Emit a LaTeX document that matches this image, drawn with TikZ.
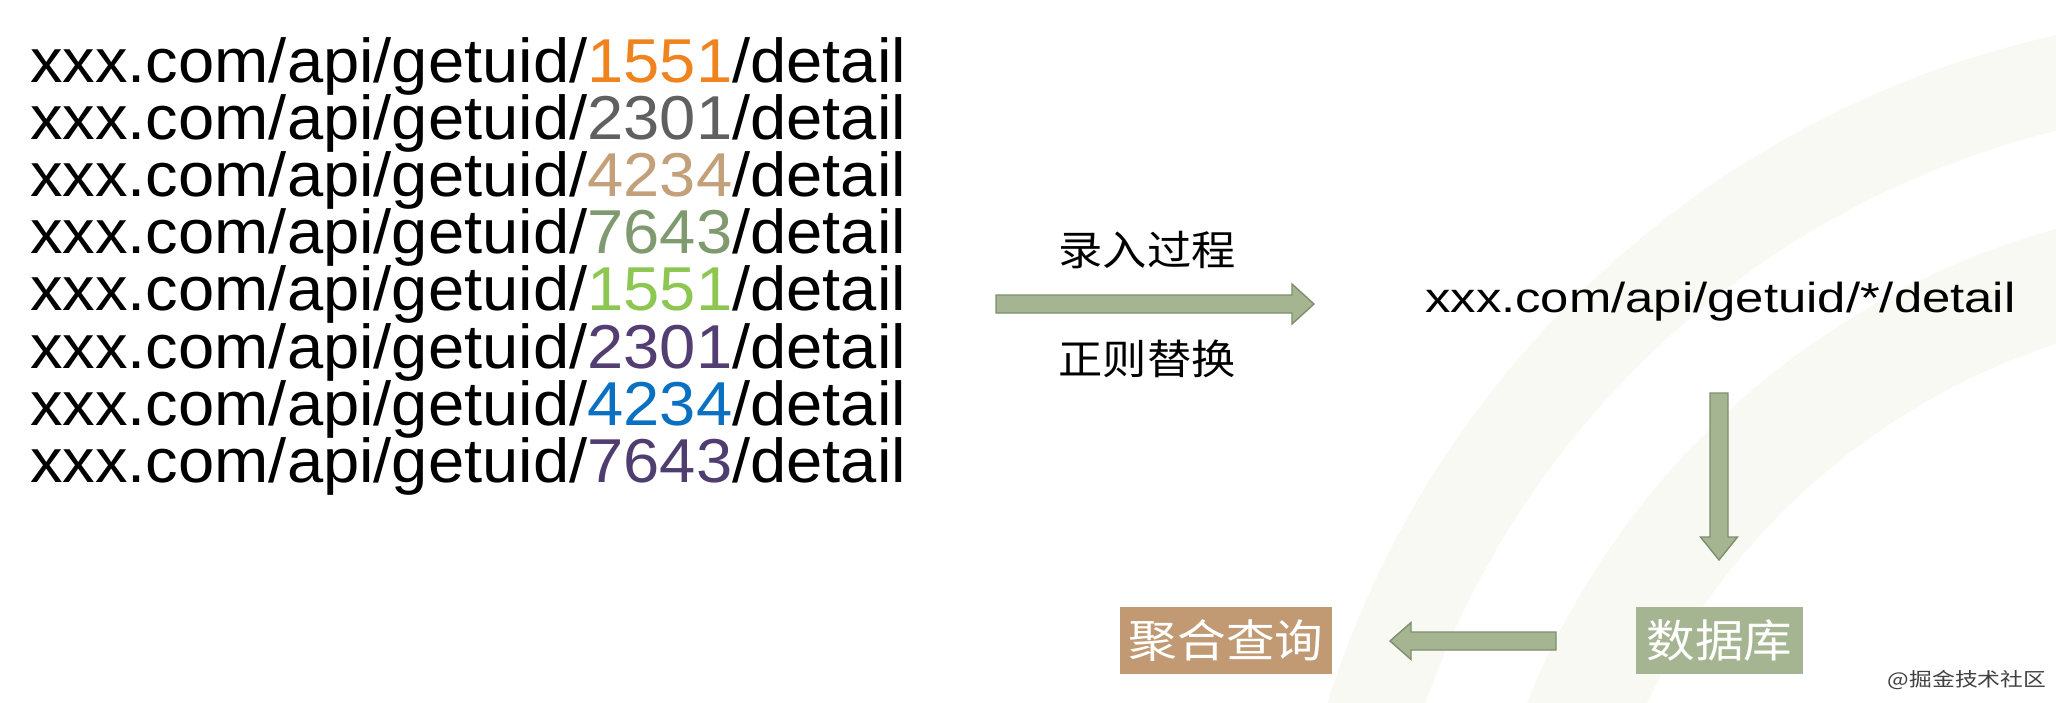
\documentclass[tikz,border=0pt]{standalone}
\usepackage{fontspec}
\setmainfont{Liberation Sans}
\newfontfamily\cjk{Noto Sans CJK SC}
\usepackage{graphicx}
\definecolor{cA}{HTML}{F0831E}
\definecolor{cB}{HTML}{606060}
\definecolor{cC}{HTML}{C4A07A}
\definecolor{cD}{HTML}{7F9A6E}
\definecolor{cE}{HTML}{8DC751}
\definecolor{cF}{HTML}{523E72}
\definecolor{cG}{HTML}{0A70C2}
\definecolor{cH}{HTML}{4F3D70}
\definecolor{sage}{HTML}{A6B591}
\definecolor{sageedge}{HTML}{7E8F6B}
\definecolor{tan}{HTML}{C19A74}
\definecolor{band}{HTML}{F9F9F4}
\newcommand{\urlline}[1]{\scalebox{1.05}[1]{\fontsize{62}{62}\selectfont xxx.com/api/getuid/#1/detail}}
\begin{document}
\begin{tikzpicture}[x=1pt,y=-1pt,
  urltext/.style={anchor=base west,inner sep=0pt},
  cjklabel/.style={inner sep=0pt,font=\cjk\fontsize{41}{41}\selectfont},
  boxnode/.style={inner sep=0pt,minimum height=67pt,text=white,font=\cjk\fontsize{45}{45}\selectfont},
  blockarrow/.style={fill=sage,draw=sageedge,line width=1.4pt,line join=miter}]
\useasboundingbox (0,0) rectangle (2056,702);
\fill[white] (0,0) rectangle (2056,702);
\begin{scope}
\clip (0,0) rectangle (2056,702);
\fill[band,even odd rule] (2270,1000) circle[radius=988pt] (2270,1000) circle[radius=895pt];
\fill[band,even odd rule] (2270,1000) circle[radius=800pt] (2270,1000) circle[radius=690pt];
\end{scope}
% left list
\node[urltext] (l1) at (30,82.0)  {\urlline{\textcolor{cA}{1551}}};
\node[urltext] (l2) at (30,139.2) {\urlline{\textcolor{cB}{2301}}};
\node[urltext] (l3) at (30,196.4) {\urlline{\textcolor{cC}{4234}}};
\node[urltext] (l4) at (30,253.6) {\urlline{\textcolor{cD}{7643}}};
\node[urltext] (l5) at (30,310.8) {\urlline{\textcolor{cE}{1551}}};
\node[urltext] (l6) at (30,368.0) {\urlline{\textcolor{cF}{2301}}};
\node[urltext] (l7) at (30,425.2) {\urlline{\textcolor{cG}{4234}}};
\node[urltext] (l8) at (30,482.4) {\urlline{\textcolor{cH}{7643}}};
% labels
\node[cjklabel] (lr) at (1147,250) {\scalebox{1.08}[1]{录入过程}};
\node[cjklabel] (zz) at (1147,359) {\scalebox{1.08}[1]{正则替换}};
% pattern
\node[urltext] (pat) at (1425,312) {\scalebox{1.21}[1]{\fontsize{42}{42}\selectfont xxx.com/api/getuid/*/detail}};
% boxes
\node[boxnode,fill=tan,minimum width=212pt] (jh) at (1226,640.5) {\scalebox{1.08}[1]{聚合查询}};
\node[boxnode,fill=sage,minimum width=167pt] (db) at (1719.5,640.5) {\scalebox{1.08}[1]{数据库}};
% arrows
\coordinate (a1) at (996,304);
\path[blockarrow] (a1) ++(0,-9) -- ++(296,0) -- ++(0,-11) -- ++(22,20) -- ++(-22,20) -- ++(0,-11) -- ++(-296,0) -- cycle;
\coordinate (a2) at (1719,393);
\path[blockarrow] (a2) ++(-9,0) -- ++(0,144) -- ++(-9.5,0) -- ++(18.5,23) -- ++(18.5,-23) -- ++(-9.5,0) -- ++(0,-144) -- cycle;
\coordinate (a3) at (1556,641);
\path[blockarrow] (a3) ++(0,-9) -- ++(-145,0) -- ++(0,-9.5) -- ++(-21,18.5) -- ++(21,18.5) -- ++(0,-9.5) -- ++(145,0) -- cycle;
% watermark
\node[inner sep=0pt,text=black!75,font=\cjk\fontsize{19}{19}\selectfont] (wm) at (1967,680) {\scalebox{1.2}[1]{@掘金技术社区}};
\end{tikzpicture}
\end{document}
